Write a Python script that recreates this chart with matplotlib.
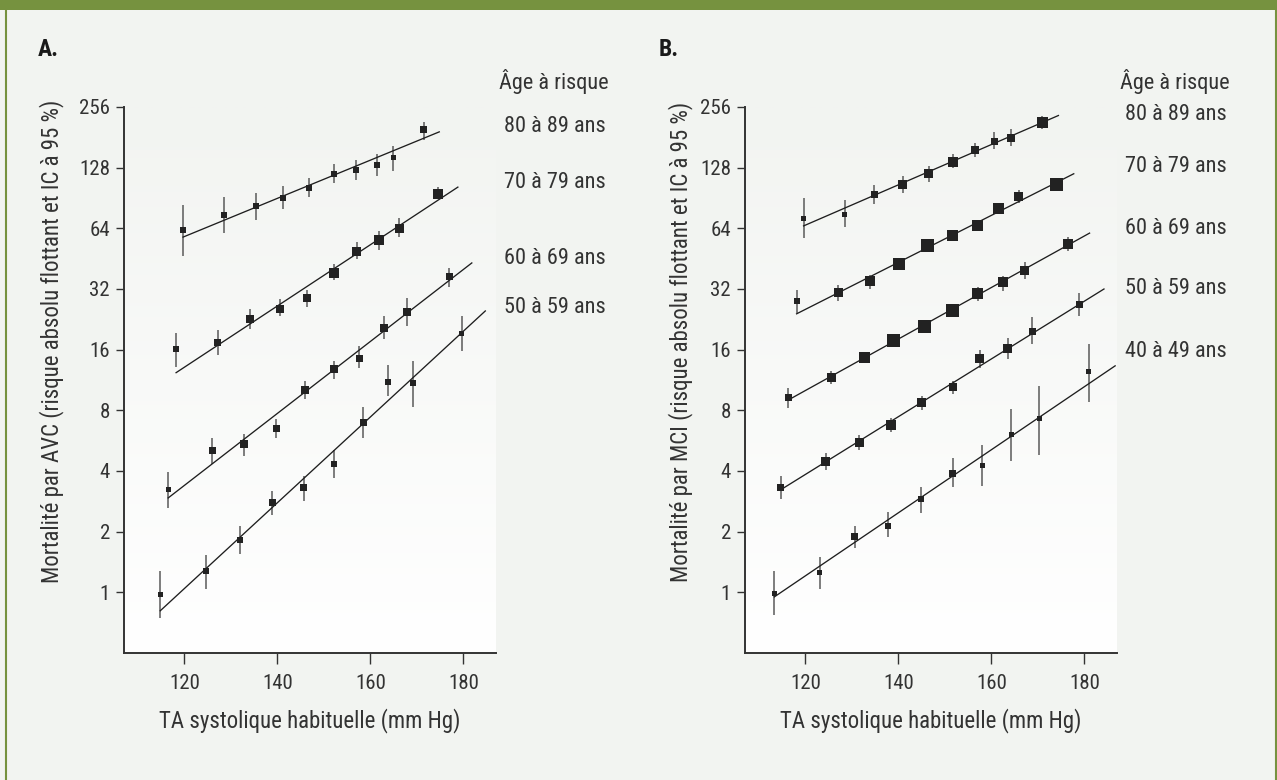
import numpy as np
import matplotlib
matplotlib.use("Agg")
import matplotlib.pyplot as plt
from matplotlib import font_manager
from matplotlib.colors import LinearSegmentedColormap
from matplotlib.patches import Rectangle
from matplotlib.lines import Line2D
from matplotlib.ticker import FixedLocator, FixedFormatter, NullLocator


# The original uses a condensed Helvetica; take the narrowest family we have.
def pick_font():
    entries = font_manager.fontManager.ttflist
    names = {f.name for f in entries}
    for fam in ("Liberation Sans Narrow", "Roboto Condensed", "Open Sans Condensed"):
        if fam in names:
            return fam, "normal", "narrow"
    for f in entries:
        if f.name == "DejaVu Sans" and "Condensed" in f.fname:
            return "DejaVu Sans", "condensed", "narrow"
    return "Liberation Sans", "normal", "wide"


FAMILY, STRETCH, WIDTH = pick_font()
plt.rcParams["font.family"] = [FAMILY, "DejaVu Sans"]
plt.rcParams["font.stretch"] = STRETCH
SCALE = 1.0 if WIDTH == "narrow" else 0.88

# ---- data (SBP in mm Hg, mortality on log2 scale) ----
Y_TICKS = [1, 2, 4, 8, 16, 32, 64, 128, 256]
X_TICKS = [120, 140, 160, 180]

# Panel A : AVC
A_AGES = ["80 à 89 ans", "70 à 79 ans", "60 à 69 ans", "50 à 59 ans"]

A80_SBP = [119.7, 128.6, 135.4, 141.3, 146.8, 152.1, 156.9, 161.4, 164.9, 171.5]
A80_RISK = [62.7, 74.4, 82.5, 90.0, 101.6, 119.6, 125.2, 132.5, 143.0, 198.0]
A80_LO = [46.9, 61.0, 70.5, 79.9, 91.1, 106.9, 111.4, 116.2, 123.6, 176.0]
A80_HI = [83.9, 91.1, 96.3, 103.3, 113.8, 133.4, 140.1, 150.1, 164.3, 216.8]
A80_FIT = [(119.7, 57.9), (174.8, 192.7)]

A70_SBP = [118.2, 127.2, 134.1, 140.6, 146.3, 152.1, 157.1, 161.8, 166.2, 174.5]
A70_RISK = [16.1, 17.3, 22.8, 25.5, 29.0, 38.6, 49.3, 56.0, 64.0, 94.5]
A70_LO = [13.1, 15.1, 20.3, 23.6, 26.0, 35.5, 45.3, 50.2, 57.7, 89.3]
A70_HI = [19.4, 20.0, 25.5, 28.6, 31.8, 42.8, 54.9, 62.2, 72.0, 102.5]
A70_FIT = [(118.2, 12.3), (178.8, 102.5)]

A60_SBP = [116.5, 126.0, 132.8, 139.7, 146.0, 152.2, 157.6, 162.9, 167.9, 176.9]
A60_RISK = [3.24, 5.04, 5.42, 6.49, 10.1, 12.8, 14.5, 20.5, 24.5, 36.9]
A60_LO = [2.62, 4.35, 4.76, 5.82, 9.13, 11.5, 13.0, 18.0, 21.0, 32.7]
A60_HI = [3.97, 5.82, 6.10, 7.21, 11.2, 14.1, 16.6, 23.4, 28.8, 40.8]
A60_FIT = [(116.5, 2.94), (181.8, 43.1)]

A50_SBP = [114.8, 124.7, 132.0, 138.9, 145.7, 152.1, 158.4, 163.8, 169.2, 179.6]
A50_RISK = [0.97, 1.27, 1.81, 2.78, 3.30, 4.34, 6.96, 11.1, 10.9, 19.3]
A50_LO = [0.75, 1.04, 1.55, 2.43, 2.83, 3.71, 5.82, 9.38, 8.28, 15.7]
A50_HI = [1.27, 1.53, 2.13, 3.20, 3.76, 5.10, 8.34, 13.5, 14.1, 23.4]
A50_FIT = [(114.8, 0.81), (184.7, 24.9)]

# Panel B : MCI
B_AGES = ["80 à 89 ans", "70 à 79 ans", "60 à 69 ans", "50 à 59 ans", "40 à 49 ans"]

B80_SBP = [119.6, 128.4, 134.8, 140.9, 146.5, 151.7, 156.4, 160.6, 164.3, 170.9]
B80_RISK = [72.0, 75.0, 94.0, 106.0, 120.0, 137.0, 157.0, 173.0, 180.0, 214.0]
B80_LO = [57.3, 64.9, 84.4, 95.7, 108.4, 128.0, 145.0, 158.7, 163.1, 198.0]
B80_HI = [90.5, 88.6, 105.4, 117.0, 130.7, 150.1, 168.9, 191.3, 198.1, 230.7]
B80_FIT = [(119.6, 65.8), (174.4, 232.3)]

B70_SBP = [118.1, 127.0, 133.8, 140.2, 146.2, 151.7, 156.9, 161.5, 165.9, 174.0]
B70_RISK = [28.0, 30.9, 34.9, 42.4, 52.7, 58.9, 66.4, 80.2, 92.0, 106.0]
B70_LO = [24.4, 28.0, 32.0, 40.5, 50.5, 56.5, 63.5, 77.0, 85.6, 101.0]
B70_HI = [31.8, 33.6, 37.5, 44.5, 55.0, 61.5, 69.5, 83.5, 99.0, 111.0]
B70_FIT = [(118.1, 24.1), (177.7, 119.4)]

B60_SBP = [116.3, 125.6, 132.7, 139.0, 145.5, 151.6, 157.1, 162.4, 167.2, 176.5]
B60_RISK = [9.27, 11.7, 14.7, 17.7, 20.8, 25.1, 30.5, 34.6, 39.5, 53.4]
B60_LO = [8.22, 10.85, 14.0, 16.9, 19.9, 24.0, 28.0, 31.3, 36.0, 49.2]
B60_HI = [10.3, 12.6, 15.4, 18.5, 21.7, 26.2, 32.7, 37.3, 43.7, 57.7]
B60_FIT = [(116.3, 9.0), (181.1, 60.6)]

B50_SBP = [114.7, 124.4, 131.6, 138.4, 145.0, 151.7, 157.5, 163.5, 168.8, 178.9]
B50_RISK = [3.31, 4.47, 5.57, 6.78, 8.7, 10.4, 14.4, 16.2, 19.8, 26.9]
B50_LO = [2.91, 4.06, 5.10, 6.23, 8.06, 9.65, 13.0, 14.4, 17.1, 23.6]
B50_HI = [3.76, 4.92, 6.06, 7.31, 9.38, 11.2, 15.9, 18.3, 23.3, 30.5]
B50_FIT = [(114.7, 3.23), (184.2, 32.0)]

B40_SBP = [113.3, 123.1, 130.6, 137.7, 144.8, 151.7, 158.0, 164.3, 170.3, 180.9]
B40_RISK = [0.985, 1.25, 1.89, 2.13, 2.91, 3.88, 4.27, 6.05, 7.25, 12.5]
B40_LO = [0.77, 1.04, 1.66, 1.88, 2.48, 3.34, 3.36, 4.50, 4.79, 8.75]
B40_HI = [1.28, 1.49, 2.14, 2.50, 3.34, 4.63, 5.39, 8.11, 10.6, 17.1]
B40_FIT = [(113.3, 0.949), (186.6, 13.3)]

# marker side in pixels (box size ~ statistical weight in the original)
A_MSIZE = [
    [6, 6, 6, 6, 6, 6, 6, 6, 5, 7],
    [6, 7, 8, 8, 8, 10, 9, 10, 9, 10],
    [5, 7, 8, 7, 8, 8, 7, 8, 8, 7],
    [5, 6, 6, 7, 7, 6, 7, 6, 6, 5],
]
B_MSIZE = [
    [5, 5, 7, 9, 9, 10, 8, 7, 8, 11],
    [6, 9, 10, 12, 13, 11, 11, 11, 9, 13],
    [7, 9, 11, 13, 13, 13, 11, 10, 9, 10],
    [7, 9, 9, 10, 9, 8, 9, 9, 7, 7],
    [5, 5, 7, 6, 6, 7, 5, 5, 5, 5],
]

A_GROUPS = [
    (A80_SBP, A80_RISK, A80_LO, A80_HI, A80_FIT),
    (A70_SBP, A70_RISK, A70_LO, A70_HI, A70_FIT),
    (A60_SBP, A60_RISK, A60_LO, A60_HI, A60_FIT),
    (A50_SBP, A50_RISK, A50_LO, A50_HI, A50_FIT),
]
B_GROUPS = [
    (B80_SBP, B80_RISK, B80_LO, B80_HI, B80_FIT),
    (B70_SBP, B70_RISK, B70_LO, B70_HI, B70_FIT),
    (B60_SBP, B60_RISK, B60_LO, B60_HI, B60_FIT),
    (B50_SBP, B50_RISK, B50_LO, B50_HI, B50_FIT),
    (B40_SBP, B40_RISK, B40_LO, B40_HI, B40_FIT),
]

# ---- layout ----
W, H = 1277, 780
DPI = 100
BG = "#f2f4f1"
GREEN = "#76923f"
INK = "#333333"


def fx(px):
    return px / W


def fy(py):
    return 1 - py / H


fig = plt.figure(figsize=(W / DPI, H / DPI), dpi=DPI, facecolor=BG)

# green frame: top band + thin side rules
fig.patches.append(Rectangle((0, fy(10)), 1, 10 / H, transform=fig.transFigure,
                             facecolor=GREEN, edgecolor="none"))
for xp in (6, 1276):
    fig.lines.append(Line2D([fx(xp), fx(xp)], [0, fy(9)], transform=fig.transFigure,
                            color=GREEN, lw=1.5))

grad_cmap = LinearSegmentedColormap.from_list("fade", [BG, "#ffffff"])
grad = np.linspace(0, 1, 256).reshape(-1, 1)


def make_panel(left_px, groups, sizes, ylabel, letter, ages, age_y, ylab_x):
    top_px, bottom_px, right_px = 107, 653, left_px + 372
    pos = [fx(left_px), fy(bottom_px), (right_px - left_px) / W, (bottom_px - top_px) / H]

    bg_ax = fig.add_axes(pos, zorder=0)
    bg_ax.imshow(grad, aspect="auto", extent=[0, 1, 0, 1], cmap=grad_cmap, origin="upper")
    bg_ax.axis("off")

    ax = fig.add_axes(pos, zorder=1)
    ax.patch.set_alpha(0)
    ax.set_yscale("log", base=2)

    for (sbp, risk, lo, hi, fit), msz in zip(groups, sizes):
        sbp = np.array(sbp)
        risk = np.array(risk)
        yerr = [risk - np.array(lo), np.array(hi) - risk]
        ax.errorbar(sbp, risk, yerr=yerr, fmt="none", ecolor="#5a5a5a",
                    elinewidth=1.1, capsize=0, zorder=2)
        (x0, y0), (x1, y1) = fit
        ax.plot([x0, x1], [y0, y1], color="#1e1e1e", lw=0.95, zorder=3)
        s_pt = np.array(msz) * 72 / DPI
        ax.scatter(sbp, risk, marker="s", s=s_pt ** 2, color="#222222",
                   edgecolors="none", zorder=4)

    ax.set_xlim(107, 187)
    ax.set_ylim(0.5, 256)
    ax.xaxis.set_major_locator(FixedLocator(X_TICKS))
    ax.yaxis.set_major_locator(FixedLocator(Y_TICKS))
    ax.yaxis.set_major_formatter(FixedFormatter([str(t) for t in Y_TICKS]))
    ax.yaxis.set_minor_locator(NullLocator())
    ax.xaxis.set_minor_locator(NullLocator())

    for side in ("top", "right"):
        ax.spines[side].set_visible(False)
    for side in ("left", "bottom"):
        ax.spines[side].set_color(INK)
        ax.spines[side].set_linewidth(1.4)
    ax.spines["left"].set_bounds(0.5, 256)

    ax.tick_params(axis="both", colors=INK, labelcolor=INK, labelsize=15 * SCALE,
                   width=1.0, direction="out")
    ax.tick_params(axis="y", length=6, pad=4)
    ax.tick_params(axis="x", length=8, pad=7)

    ax.set_xlabel("TA systolique habituelle (mm Hg)", fontsize=16.5 * SCALE, color=INK,
                  labelpad=11)
    ax.set_ylabel(ylabel, fontsize=16.5 * SCALE, color=INK)
    ax.yaxis.set_label_coords((ylab_x - left_px) / (right_px - left_px), 0.57)

    fig.text(fx(left_px - 86), fy(50), letter, fontsize=17 * SCALE, fontweight="bold",
             color="#1a1a1a", va="center", ha="left")
    fig.text(fx(left_px + 375), fy(81), "Âge à risque", fontsize=16 * SCALE, color=INK,
             va="center", ha="left")
    for label, yp in zip(ages, age_y):
        fig.text(fx(left_px + 380), fy(yp), label, fontsize=16 * SCALE, color=INK,
                 va="center", ha="left")
    return ax


make_panel(124, A_GROUPS, A_MSIZE,
           "Mortalité par AVC (risque absolu flottant et IC à 95 %)", "A.",
           A_AGES, [127, 183, 259, 308], 64)
make_panel(745, B_GROUPS, B_MSIZE,
           "Mortalité par MCI (risque absolu flottant et IC à 95 %)", "B.",
           B_AGES, [114, 167, 229, 289, 352], 693)

fig.savefig("out.png", dpi=DPI, facecolor=BG)
